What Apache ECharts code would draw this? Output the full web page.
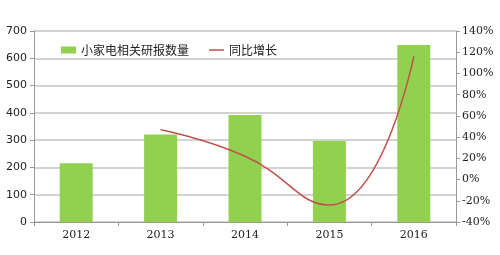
<!DOCTYPE html>
<html><head><meta charset="utf-8">
<script src="https://cdn.jsdelivr.net/npm/echarts@6/dist/echarts.min.js"></script>
<style>html,body{margin:0;padding:0;background:#fff}#c{width:500px;height:255px}</style>
</head><body><div id="c"></div>
<script>
const categories = ['2012','2013','2014','2015','2016'];
const reportCounts = [215, 321, 392, 297, 649];
const growthPct = [null, 47, 22, -24, 116];
const leftTicks = {min:0, max:700, interval:100};
const rightTicks = {min:-40, max:140, interval:20};

const chart = echarts.init(document.getElementById('c'), null, {renderer:'canvas'});
const axisFont = {color:'#222', fontSize:11, fontFamily:'DejaVu Sans'};
chart.setOption({
  animation:false,
  backgroundColor:'#fff',
  legend:{
    top:39, left:56, itemGap:20, itemWidth:15, itemHeight:7,
    textStyle:{fontFamily:'Noto Sans CJK SC', fontSize:12, color:'#222'},
    data:[{name:'小家电相关研报数量', icon:'rect'},{name:'同比增长', icon:'path://M0,0 L10,0 L10,1 L0,1 Z', itemStyle:{color:'#C0504D'}}]
  },
  grid:{left:34, right:44, top:31, bottom:33},
  xAxis:{
    type:'category', data:categories, boundaryGap:true,
    axisLine:{lineStyle:{color:'#999'}},
    axisTick:{show:true, length:4, lineStyle:{color:'#999'}},
    axisLabel:Object.assign({margin:8}, axisFont, {fontFamily:'DejaVu Serif'})
  },
  yAxis:[{
    type:'value', min:leftTicks.min, max:leftTicks.max, interval:leftTicks.interval,
    axisLine:{show:true, lineStyle:{color:'#999'}},
    axisTick:{show:true, length:4, lineStyle:{color:'#999'}},
    splitLine:{lineStyle:{color:'#c4c4c4', width:1.5}},
    axisLabel:Object.assign({margin:7}, axisFont)
  },{
    type:'value', min:rightTicks.min, max:rightTicks.max, interval:rightTicks.interval,
    axisLine:{show:true, lineStyle:{color:'#999'}},
    axisTick:{show:true, length:4, lineStyle:{color:'#999'}},
    splitLine:{show:false},
    axisLabel:Object.assign({margin:6, formatter:'{value}%'}, axisFont, {fontFamily:'DejaVu Serif'})
  }],
  series:[{
    name:'小家电相关研报数量', type:'bar', data:reportCounts, barWidth:33,
    itemStyle:{color:'#92D050'}
  },{
    name:'同比增长', type:'line', yAxisIndex:1, data:growthPct, smooth:0.5,
    showSymbol:false, symbol:'none', connectNulls:false,
    lineStyle:{color:'#C0504D', width:1.5}, itemStyle:{color:'#C0504D'}
  }]
});
</script></body></html>
